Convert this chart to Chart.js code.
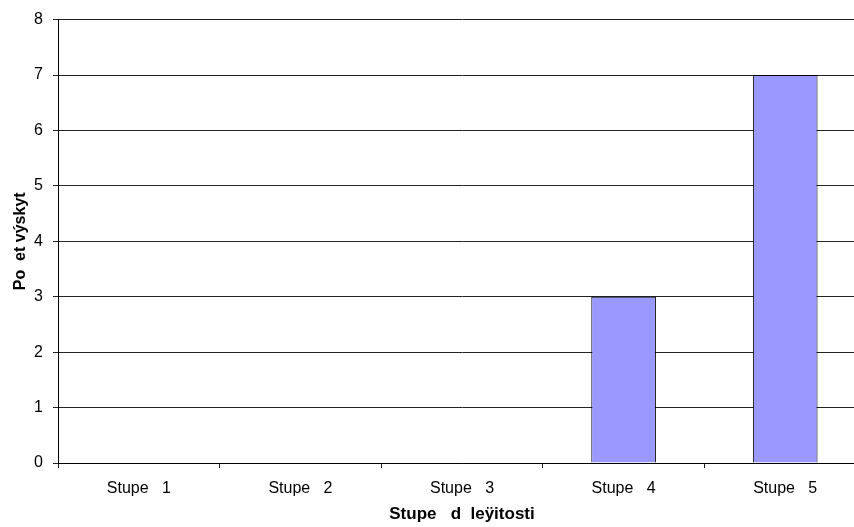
<!DOCTYPE html>
<html>
<head>
<meta charset="utf-8">
<script src="https://cdn.jsdelivr.net/npm/chart.js@4"></script>
<style>
  html, body { margin: 0; padding: 0; background: #fff; overflow: hidden; }
  #wrap { width: 870px; height: 527px; }
</style>
</head>
<body>
<div id="wrap"><canvas id="chart" width="870" height="527"></canvas></div>
<script>
// Data
const categories = ['Stupe   1', 'Stupe   2', 'Stupe   3', 'Stupe   4', 'Stupe   5'];
const counts = [0, 0, 0, 3, 7];
const yTicks = [0, 1, 2, 3, 4, 5, 6, 7, 8];
const xTitle = 'Stupe   d  leÿitosti';
const yTitle = 'Po  et výskyt';

const fontFamily = '"Liberation Sans", Arial, sans-serif';

const ctx = document.getElementById('chart').getContext('2d');
new Chart(ctx, {
    type: 'bar',
    data: {
        labels: categories,
        datasets: [{
            data: counts,
            backgroundColor: '#9999FF',
            borderColor: '#000',
            borderWidth: 1,
            barPercentage: 0.4,
            categoryPercentage: 1
        }]
    },
    options: {
        responsive: false,
        animation: false,
        layout: { padding: { top: 17, right: 4, left: 0, bottom: 0 } },
        plugins: {
            legend: { display: false },
            tooltip: { enabled: false }
        },
        scales: {
            x: {
                offset: true,
                grid: {
                    offset: true,
                    drawOnChartArea: false,
                    drawTicks: true,
                    tickLength: 5,
                    color: '#222'
                },
                border: { color: '#000', width: 1 },
                ticks: {
                    color: '#000',
                    padding: 11,
                    maxRotation: 0,
                    autoSkip: false,
                    font: { family: fontFamily, size: 16 }
                },
                title: {
                    display: true,
                    text: xTitle,
                    color: '#000',
                    padding: { top: 0, bottom: 2 },
                    font: { family: fontFamily, size: 17, weight: 'bold' }
                },
                afterFit: function(scale) { scale.height = 64; }
            },
            y: {
                min: 0,
                max: 8,
                afterBuildTicks: function(scale) {
                    scale.ticks = yTicks.map(v => ({ value: v }));
                },
                grid: {
                    color: '#222',
                    tickLength: 5,
                    drawTicks: true
                },
                border: { color: '#000', width: 1 },
                ticks: {
                    color: '#000',
                    padding: 10,
                    font: { family: fontFamily, size: 16 }
                },
                title: {
                    display: true,
                    text: yTitle,
                    color: '#000',
                    padding: { top: 11, bottom: 0 },
                    font: { family: fontFamily, size: 16, weight: 'bold' }
                },
                afterFit: function(scale) { scale.width = 58; }
            }
        }
    }
});
</script>
</body>
</html>
